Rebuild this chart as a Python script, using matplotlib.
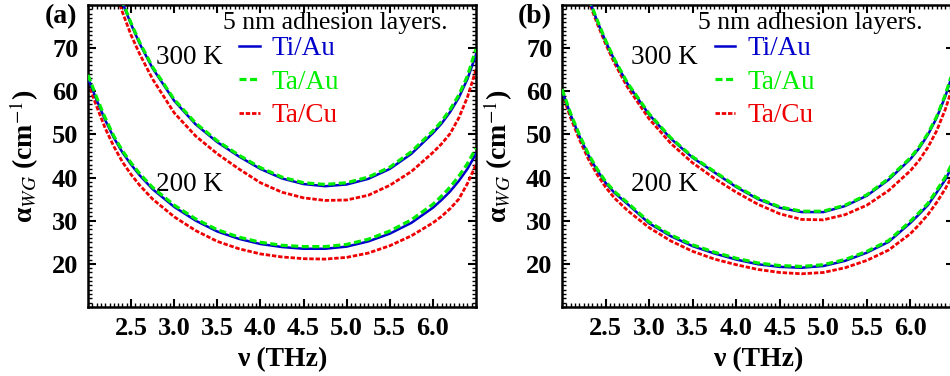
import numpy as np
import matplotlib
matplotlib.use("Agg")
import matplotlib.pyplot as plt
from matplotlib.ticker import MultipleLocator, FixedLocator

nan = np.nan

# frequency grid (THz) shared by all curves
nu = [2.0, 2.1, 2.2, 2.3, 2.4, 2.5, 2.6, 2.75, 3.0, 3.25, 3.5, 3.75, 4.0,
      4.25, 4.5, 4.75, 5.0, 5.25, 5.5, 5.75, 6.0, 6.1, 6.2, 6.3, 6.4, 6.5]

# panel (a) waveguide loss (cm^-1)
tiau_a300 = [nan, nan, nan, 87.0, 80.5, 75.5, 71.0, 65.3, 57.8, 52.3, 48.2, 44.9, 42.0,
             39.8, 38.5, 38.0, 38.4, 39.7, 42.0, 45.5, 50.3, 52.5, 55.2, 58.5, 62.8, 68.5]
taau_a300 = [nan, nan, nan, 87.3, 80.8, 75.8, 71.3, 65.6, 58.1, 52.6, 48.5, 45.2, 42.3,
             40.1, 38.8, 38.4, 38.8, 40.1, 42.4, 46.0, 50.8, 53.0, 55.8, 59.1, 63.5, 69.8]
tacu_a300 = [nan, nan, nan, 84.0, 78.3, 73.0, 68.6, 62.8, 55.0, 49.6, 45.5, 42.0, 38.8,
             36.6, 35.3, 34.7, 34.8, 35.9, 38.2, 41.4, 45.8, 47.8, 50.2, 53.8, 58.6, 65.0]
tiau_a200 = [63.0, 58.0, 53.3, 49.2, 45.8, 43.0, 40.5, 37.3, 33.2, 30.0, 27.5, 25.8, 24.6,
             23.9, 23.5, 23.5, 24.0, 25.2, 27.0, 29.5, 33.0, 34.8, 36.8, 39.2, 42.0, 45.5]
taau_a200 = [63.8, 58.6, 53.8, 49.6, 46.2, 43.4, 40.9, 37.7, 33.6, 30.4, 27.9, 26.2, 25.0,
             24.3, 24.0, 24.0, 24.5, 25.7, 27.6, 30.2, 33.8, 35.7, 37.8, 40.3, 43.2, 46.8]
tacu_a200 = [62.0, 56.5, 51.4, 47.2, 43.6, 40.7, 38.2, 35.0, 30.9, 27.7, 25.2, 23.5, 22.3,
             21.6, 21.2, 21.1, 21.5, 22.5, 24.2, 26.5, 29.5, 31.0, 32.8, 35.0, 38.6, 43.0]

# panel (b)
tiau_b300 = [nan, nan, nan, 81.7, 76.5, 71.6, 67.3, 61.8, 54.6, 49.0, 44.6, 41.2, 37.8,
             35.0, 33.0, 32.0, 32.0, 33.4, 35.8, 39.5, 44.3, 46.8, 49.9, 53.8, 58.8, 65.0]
taau_b300 = [nan, nan, nan, 81.9, 76.7, 71.8, 67.5, 62.0, 54.8, 49.2, 44.8, 41.4, 38.0,
             35.2, 33.2, 32.2, 32.2, 33.6, 36.0, 39.8, 44.6, 47.1, 50.2, 54.1, 59.2, 65.5]
tacu_b300 = [nan, nan, nan, 81.2, 75.9, 71.0, 66.6, 61.0, 53.6, 47.9, 43.4, 39.8, 36.6,
             33.8, 31.6, 30.3, 30.2, 31.4, 33.6, 37.0, 41.6, 44.0, 47.0, 50.8, 55.8, 62.0]
tiau_b200 = [60.2, 54.5, 49.6, 45.3, 41.8, 38.8, 36.5, 33.9, 29.4, 26.4, 24.1, 22.4, 21.0,
             19.9, 19.3, 19.1, 19.5, 20.7, 22.6, 25.1, 29.5, 31.5, 33.6, 36.5, 39.5, 43.5]
taau_b200 = [60.5, 54.8, 49.9, 45.6, 42.1, 39.1, 36.8, 34.2, 29.7, 26.7, 24.4, 22.7, 21.3,
             20.2, 19.6, 19.4, 19.8, 21.0, 22.9, 25.4, 29.9, 31.9, 34.0, 37.0, 40.1, 44.2]
tacu_b200 = [59.6, 53.8, 48.8, 44.4, 40.8, 37.8, 35.3, 32.4, 28.4, 25.3, 22.9, 21.1, 19.8,
             18.7, 18.0, 17.7, 18.0, 19.1, 20.8, 23.2, 27.0, 29.1, 31.4, 34.2, 37.4, 41.2]

labels = ["Ti/Au", "Ta/Au", "Ta/Cu"]
xticks = [2.5, 3.0, 3.5, 4.0, 4.5, 5.0, 5.5, 6.0]
yticks = [20, 30, 40, 50, 60, 70]

plt.rcParams["font.family"] = ["Liberation Serif", "DejaVu Serif"]
plt.rcParams["mathtext.fontset"] = "stix"

BLUE = "#0000cc"
GREEN = "#00ee00"
RED = "#ee0000"
GREEN_LS = (0, (2.2, 1.1))
RED_LS = (0, (1.6, 0.65))


def draw_panel(ax, tag, c300, c200):
    for curves in (c300, c200):
        ti, ta, cu = curves
        ax.plot(nu, cu, color=RED, lw=2.0, ls=RED_LS, zorder=2)
        ax.plot(nu, ti, color=BLUE, lw=1.8, zorder=3)
        ax.plot(nu, ta, color=GREEN, lw=2.3, ls=GREEN_LS, zorder=4)

    ax.set_xlim(2.0, 6.5)
    ax.set_ylim(10, 80)
    ax.xaxis.set_major_locator(FixedLocator(xticks))
    ax.xaxis.set_minor_locator(MultipleLocator(0.05))
    ax.yaxis.set_major_locator(FixedLocator(yticks))
    ax.yaxis.set_minor_locator(MultipleLocator(1))
    ax.set_xticklabels([f"{v:.1f}" for v in xticks])
    ax.tick_params(which="both", direction="in", top=True, right=True)
    ax.tick_params(which="major", length=6, width=1.5, labelsize=19, pad=7)
    ax.tick_params(which="minor", length=3, width=1.0)
    for lab in ax.get_xticklabels() + ax.get_yticklabels():
        lab.set_fontweight("bold")
    for sp in ax.spines.values():
        sp.set_linewidth(1.8)

    ax.set_xlabel("ν (THz)", fontsize=20, fontweight="bold", labelpad=5)
    ax.set_ylabel(r"α$_{WG}$ (cm$^{-1}$)", fontsize=20, fontweight="bold")

    ax.text(0.175, 0.825, "300 K", transform=ax.transAxes, fontsize=19.5, va="center")
    ax.text(0.175, 0.404, "200 K", transform=ax.transAxes, fontsize=19.5, va="center")
    ax.text(-0.07, 0.96, tag, transform=ax.transAxes, fontsize=20,
            fontweight="bold", va="center", ha="center")

    ax.text(0.348, 0.94, "5 nm adhesion layers.", transform=ax.transAxes,
            fontsize=18.5, va="center")
    hs = [plt.Line2D([], [], color=BLUE, lw=1.8),
          plt.Line2D([], [], color=GREEN, lw=2.3, ls=GREEN_LS),
          plt.Line2D([], [], color=RED, lw=2.0, ls=RED_LS)]
    ax.legend(hs, labels, loc="upper left", bbox_to_anchor=(0.39, 0.897),
              frameon=False, fontsize=19.5, handlelength=0.75, handletextpad=0.45,
              labelspacing=0.32, borderpad=0, borderaxespad=0, labelcolor="linecolor")


fig = plt.figure(figsize=(9.5, 3.76), dpi=100)
ax_a = fig.add_axes([88 / 950, 69 / 376, 388 / 950, 302 / 376])
ax_b = fig.add_axes([562 / 950, 69 / 376, 392 / 950, 302 / 376])

draw_panel(ax_a, "(a)", (tiau_a300, taau_a300, tacu_a300), (tiau_a200, taau_a200, tacu_a200))
draw_panel(ax_b, "(b)", (tiau_b300, taau_b300, tacu_b300), (tiau_b200, taau_b200, tacu_b200))

ax_a.yaxis.set_label_coords(-0.12, 0.5)
ax_b.yaxis.set_label_coords(-0.12, 0.5)

fig.savefig("out.png", dpi=100)
